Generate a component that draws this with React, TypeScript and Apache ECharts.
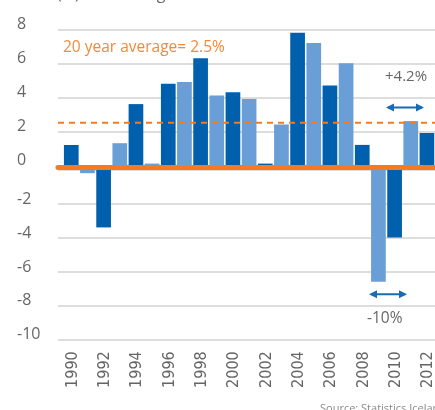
import React, { useEffect, useRef } from "react";
import * as echarts from "echarts";

const years = ["1990","1991","1992","1993","1994","1995","1996","1997","1998","1999","2000","2001","2002","2003","2004","2005","2006","2007","2008","2009","2010","2011","2012"];
const growth = [1.2,-0.2,-3.4,1.3,3.6,0.1,4.8,4.9,6.3,4.1,4.3,3.9,0.1,2.4,7.8,7.2,4.7,6.0,1.2,-6.6,-4.0,2.6,1.9];
const averageValue = 2.5;
const averageLabel = "20 year average= 2.5%";
const upNote = "+4.2%";
const downNote = "-10%";
const titleText = "(%) Real GDP growth";
const sourceText = "Source: Statistics Iceland";
const posMax = 8;
const negMin = -10;
const yStep = 2;

const DARK = "#0060AE";
const LIGHT = "#6A9ED6";
const ORANGE = "#F47B20";
const GREY = "#666666";
const ARROW = "#1A6BB5";
const FONT = "'Open Sans', 'Noto Sans', sans-serif";

function arrow(x1: number, x2: number, y: number) {
  const h = 4;
  const l = 8;
  return [
    { type: "line", shape: { x1: x1 + 2, y1: y, x2: x2 - 2, y2: y }, style: { stroke: ARROW, lineWidth: 2 } },
    { type: "polygon", shape: { points: [[x1, y], [x1 + l, y - h], [x1 + l, y + h]] }, style: { fill: ARROW } },
    { type: "polygon", shape: { points: [[x2, y], [x2 - l, y - h], [x2 - l, y + h]] }, style: { fill: ARROW } },
  ];
}

export default function App() {
  const ref = useRef<HTMLDivElement>(null);
  useEffect(() => {
    if (!ref.current) return;
    const chart = echarts.init(ref.current, null, { renderer: "svg" });
    const posTop = 29.3;
    const posH = 136;
    const negTop = 169.8;
    const negH = 169.5;
    const yLabel = {
      align: "left",
      margin: 41,
      fontSize: 16,
      color: GREY,
      fontFamily: FONT,
      verticalAlign: "bottom",
      lineHeight: 12,
    };
    const split = { show: true, lineStyle: { color: "#d2d2d2", width: 1.5 } };
    chart.setOption({
      animation: false,
      textStyle: { fontFamily: FONT },
      grid: [
        { left: 58, top: posTop, width: 400, height: posH },
        { left: 58, top: negTop, width: 400, height: negH },
        { left: 63.2, top: posTop, width: 374, height: posH },
        { left: 63.2, top: negTop, width: 374, height: negH },
      ],
      xAxis: [
        { gridIndex: 0, type: "value", min: 0, max: 1, show: false },
        {
          gridIndex: 1,
          type: "value",
          min: 0,
          max: 1,
          position: "top",
          offset: 2.3,
          z: 5,
          axisLine: { show: true, onZero: false, lineStyle: { color: ORANGE, width: 5 } },
          axisTick: { show: false },
          axisLabel: { show: false },
          splitLine: { show: false },
        },
        { gridIndex: 2, type: "category", data: years, show: false },
        {
          gridIndex: 3,
          type: "category",
          data: years,
          position: "bottom",
          axisLine: { show: false, onZero: false },
          axisTick: { show: false },
          splitLine: { show: false },
          axisLabel: {
            interval: 1,
            rotate: 90,
            margin: 12,
            fontSize: 16,
            color: GREY,
            fontFamily: "'Liberation Sans Narrow', 'DejaVu Sans Condensed', 'Open Sans', sans-serif",
          },
        },
      ],
      yAxis: [
        {
          gridIndex: 0,
          type: "value",
          min: 0,
          max: posMax,
          interval: yStep,
          axisLine: { show: false },
          axisTick: { show: false },
          splitLine: split,
          axisLabel: yLabel,
        },
        {
          gridIndex: 1,
          type: "value",
          min: negMin,
          max: 0,
          interval: yStep,
          axisLine: { show: false },
          axisTick: { show: false },
          splitLine: split,
          axisLabel: { ...yLabel, showMaxLabel: false, formatter: (v: number) => (v === 0 ? "" : String(v)) },
        },
        { gridIndex: 2, type: "value", min: 0, max: posMax, interval: yStep, show: false, splitLine: { show: false } },
        { gridIndex: 3, type: "value", min: negMin, max: 0, interval: yStep, show: false, splitLine: { show: false } },
      ],
      series: [
        {
          type: "bar",
          xAxisIndex: 2,
          yAxisIndex: 2,
          barWidth: 14.7,
          z: 2,
          data: growth.map((v, i) => (v >= 0 ? { value: v, itemStyle: { color: i % 2 === 0 ? DARK : LIGHT } } : "-")),
        },
        {
          type: "bar",
          xAxisIndex: 3,
          yAxisIndex: 3,
          barWidth: 14.7,
          z: 2,
          data: growth.map((v, i) => (v < 0 ? { value: v, itemStyle: { color: i % 2 === 0 ? DARK : LIGHT } } : "-")),
        },
        {
          type: "line",
          xAxisIndex: 0,
          yAxisIndex: 0,
          data: [[0, averageValue], [1, averageValue]],
          symbol: "none",
          z: 3,
          silent: true,
          lineStyle: { color: ORANGE, width: 2, type: [6, 5] },
        },
      ],
      graphic: [
        { type: "text", x: 57, y: 0.5, style: { text: titleText, fontSize: 16, fill: GREY, fontFamily: FONT, verticalAlign: "bottom" } },
        { type: "text", x: 63, y: 38, style: { text: averageLabel, fontSize: 15.5, fill: "#F28A3A", fontFamily: FONT } },
        { type: "text", x: 385, y: 67, style: { text: upNote, fontSize: 15, fill: GREY, fontFamily: FONT } },
        { type: "text", x: 367, y: 309, style: { text: downNote, fontSize: 15.5, fill: GREY, fontFamily: FONT } },
        { type: "text", x: 320, y: 402, style: { text: sourceText, fontSize: 11, fill: "#8a8a8a", fontFamily: FONT } },
        ...arrow(386, 424, 107.5),
        ...arrow(369, 407, 294.3),
      ],
    });
    return () => chart.dispose();
  }, []);
  return <div ref={ref} style={{ position: "fixed", left: 0, top: 0, width: 435, height: 410 }} />;
}
